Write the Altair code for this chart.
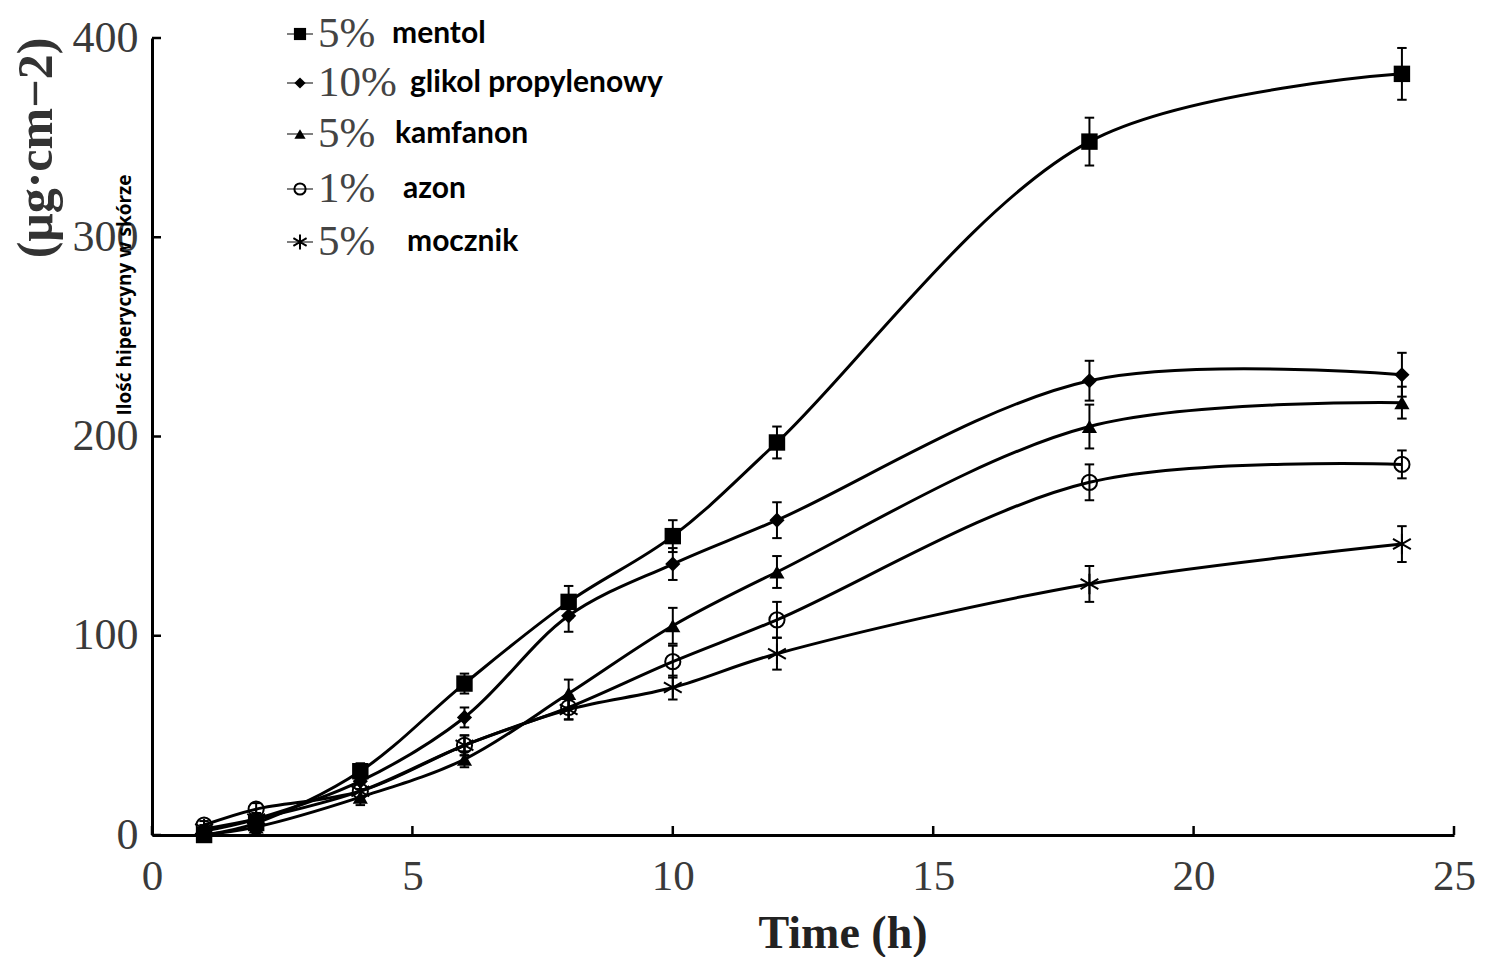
import altair as alt
import pandas as pd

# ---- data ----
times = [1, 2, 4, 6, 8, 10, 12, 18, 24]
pct_labels = ["5%", "10%", "5%", "1%", "5%"]
names = ["mentol", "glikol propylenowy", "kamfanon", "azon", "mocznik"]

mentol = [0, 6, 32, 76, 117, 150, 197, 348, 382]
glikol = [2, 8, 27, 59, 110, 136, 158, 228, 231]
kamfanon = [0, 4, 19, 38, 71, 105, 132, 205, 217]
azon = [5, 13, 22, 45, 64, 87, 108, 177, 186]
mocznik = [3, 8, 22, 45, 63, 74, 91, 126, 146]

mentol_err = [2, 3, 4, 5, 8, 8, 8, 12, 13]
glikol_err = [2, 3, 4, 5, 8, 8, 9, 10, 11]
kamfanon_err = [2, 3, 4, 4, 7, 9, 8, 11, 8]
azon_err = [2, 3, 4, 5, 6, 8, 9, 9, 7]
mocznik_err = [2, 3, 4, 5, 5, 6, 8, 9, 9]

x_ticks = [0, 5, 10, 15, 20, 25]
y_ticks = [0, 100, 200, 300, 400]

values = [mentol, glikol, kamfanon, azon, mocznik]
errors = [mentol_err, glikol_err, kamfanon_err, azon_err, mocznik_err]

W, H = 1302, 797

xs = alt.Scale(domain=[0, 25], nice=False, zero=False)
ys = alt.Scale(domain=[0, 400], nice=False)

x_axis = alt.Axis(values=x_ticks, title=None, ticks=False, grid=False,
                  domainColor="black", domainWidth=3,
                  labelFont="Liberation Serif", labelFontSize=43,
                  labelColor="#3a3a3a", labelPadding=20,
                  labelFlush=False, labelOverlap=False, labelBound=False)
y_axis = alt.Axis(values=y_ticks, title=None, ticks=False, grid=False,
                  domainColor="black", domainWidth=3,
                  labelFont="Liberation Serif", labelFontSize=44,
                  labelColor="#3a3a3a", labelPadding=14, labelBaseline="middle",
                  labelFlush=False, labelOverlap=False, labelBound=False)

asterisk = "M0,-1L0,1M-0.87,-0.5L0.87,0.5M-0.87,0.5L0.87,-0.5"
cap = "M-1,0L1,0"
marker_specs = [
    dict(shape="square", filled=True, size=270),
    dict(shape="diamond", filled=True, size=230),
    dict(shape="triangle-up", filled=True, size=230),
    dict(shape="circle", filled=False, size=230, strokeWidth=2),
    dict(shape=asterisk, filled=False, size=420, strokeWidth=2),
]

layers = []

# axes with inward ticks
tick_df_x = pd.DataFrame({"t": x_ticks})
tick_df_y = pd.DataFrame({"v": y_ticks})
layers.append(
    alt.Chart(tick_df_x).mark_rule(color="black", strokeWidth=2.5).encode(
        x=alt.X("t:Q", scale=xs, axis=x_axis),
        y=alt.value(H), y2=alt.value(H - 9))
)
layers.append(
    alt.Chart(tick_df_y).mark_rule(color="black", strokeWidth=2.5).encode(
        y=alt.Y("v:Q", scale=ys, axis=y_axis),
        x=alt.value(0), x2=alt.value(9))
)

for i in range(5):
    df = pd.DataFrame({"t": times, "v": values[i], "e": errors[i]})
    df["lo"] = df["v"] - df["e"]
    df["hi"] = df["v"] + df["e"]
    base = alt.Chart(df)
    X = alt.X("t:Q", scale=xs)
    layers.append(base.mark_line(interpolate="catmull-rom", color="black", strokeWidth=3)
                  .encode(x=X, y=alt.Y("v:Q", scale=ys)))
    layers.append(base.mark_rule(color="black", strokeWidth=2)
                  .encode(x=X, y=alt.Y("lo:Q", scale=ys), y2="hi:Q"))
    for col in ["lo", "hi"]:
        layers.append(base.mark_point(shape=cap, size=90, strokeWidth=2, filled=False,
                                      color="black", opacity=1)
                      .encode(x=X, y=alt.Y(f"{col}:Q", scale=ys)))
    spec = marker_specs[i]
    layers.append(base.mark_point(color="black", opacity=1, **spec)
                  .encode(x=X, y=alt.Y("v:Q", scale=ys)))

# ---- manual legend ----
row_y = [-4, 45, 96, 151, 204]
label_x = [240, 258, 243, 251, 255]
one = pd.DataFrame({"d": [0]})
for i in range(5):
    layers.append(alt.Chart(one).mark_rule(color="#555", strokeWidth=1.5).encode(
        x=alt.value(135), x2=alt.value(161), y=alt.value(row_y[i])))
    spec = dict(marker_specs[i])
    spec["size"] = int(spec["size"] * 0.55)
    layers.append(alt.Chart(one).mark_point(color="black", opacity=1, **spec).encode(
        x=alt.value(148), y=alt.value(row_y[i])))
    layers.append(alt.Chart(one).mark_text(
        text=pct_labels[i], font="Liberation Serif", fontSize=43, color="#444",
        align="left", baseline="middle").encode(x=alt.value(166), y=alt.value(row_y[i])))
    layers.append(alt.Chart(one).mark_text(
        text=names[i], font="Lato", fontWeight="bold", fontSize=30, color="black",
        align="left", baseline="middle").encode(x=alt.value(label_x[i]), y=alt.value(row_y[i])))

# ---- titles ----
layers.append(alt.Chart(one).mark_text(
    text="(μg·cm−2)", font="Liberation Serif", fontWeight="bold", fontSize=50,
    color="#333", angle=270, align="center", baseline="middle").encode(
    x=alt.value(-115), y=alt.value(110)))
layers.append(alt.Chart(one).mark_text(
    text="Ilość hiperycyny w skórze", font="Open Sans", fontWeight="bold", fontSize=19,
    color="black", angle=270, align="center", baseline="middle").encode(
    x=alt.value(-27), y=alt.value(257)))
layers.append(alt.Chart(one).mark_text(
    text="Time (h)", font="Liberation Serif", fontWeight="bold", fontSize=46,
    color="#222", align="center", baseline="alphabetic").encode(
    x=alt.value(691), y=alt.value(910)))

chart = alt.layer(*layers).properties(
    width=W, height=H,
    autosize=alt.AutoSizeParams(type="none"),
    padding={"left": 144, "top": 30, "right": 24, "bottom": 122},
    background="white",
).configure_view(stroke=None)

chart.save("out.html", embed_options={"renderer": "svg", "actions": False})
